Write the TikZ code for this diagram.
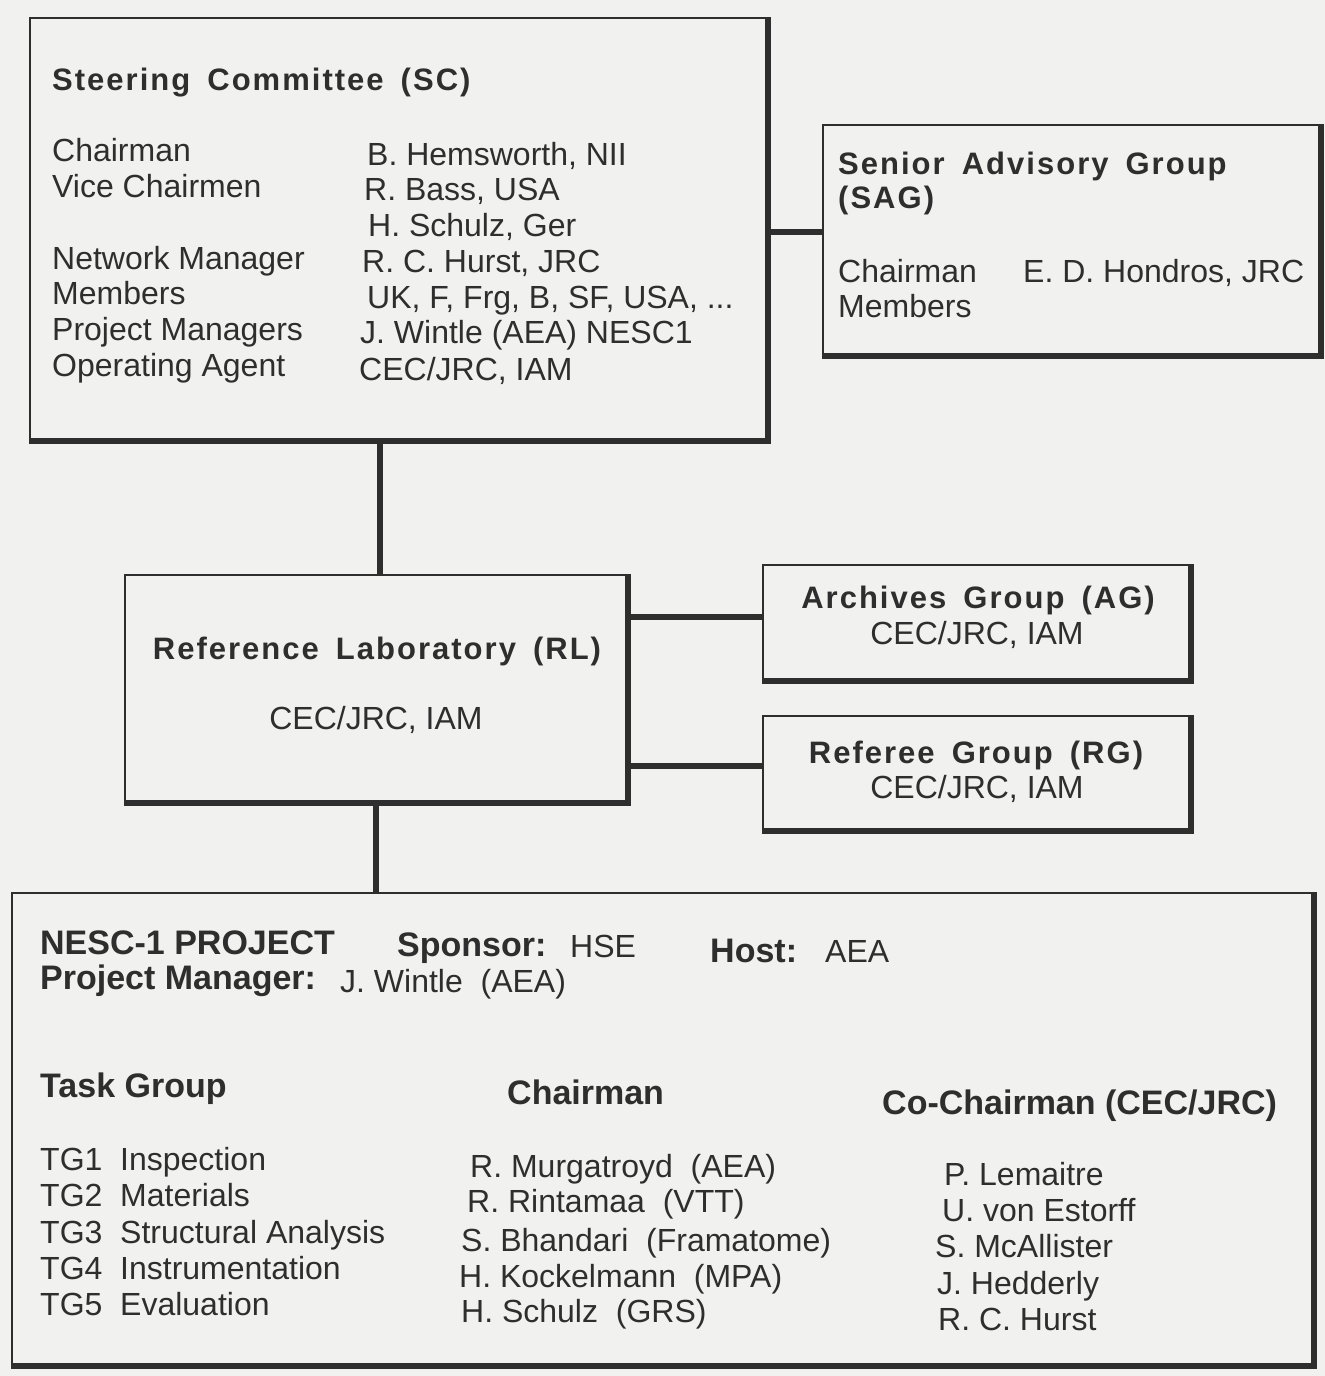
\documentclass[tikz,border=0pt]{standalone}
\usepackage{fontspec}
\setmainfont{Liberation Sans}
\newfontfamily\titlefont[LetterSpace=6.5]{Liberation Sans}
\definecolor{bgcol}{HTML}{F1F1EF}
\definecolor{ink}{HTML}{2E2E2E}
\newcommand{\wsp}{\hspace{0.55em}}
\tikzset{
  box/.style={draw=ink, line width=1.8pt, inner sep=0pt, fill=bgcol},
  thickedge/.style={draw=ink, line width=5.5pt, line cap=butt, line join=miter},
  conn/.style={draw=ink, line width=6pt},
  txt/.style={anchor=base west, inner sep=0pt, text=ink, font=\fontsize{32}{36}\selectfont},
  ctxt/.style={anchor=base, inner sep=0pt, text=ink, font=\fontsize{32}{36}\selectfont},
  ttl/.style={anchor=base west, inner sep=0pt, text=ink, font=\fontsize{31}{36}\titlefont\bfseries},
  cttl/.style={anchor=base, inner sep=0pt, text=ink, font=\fontsize{31}{36}\titlefont\bfseries},
  ntxt/.style={anchor=base west, inner sep=0pt, text=ink, font=\fontsize{32}{36}\selectfont},
  nbold/.style={anchor=base west, inner sep=0pt, text=ink, font=\fontsize{34}{36}\selectfont\bfseries}
}
\begin{document}
\begin{tikzpicture}[x=1pt,y=-1pt]
\useasboundingbox[fill=bgcol] (0,0) rectangle (1325,1376);

% boxes
\node[box, minimum width=737pt, minimum height=422pt] (sc) at (398.5,229) {};
\node[box, minimum width=497pt, minimum height=230pt] (sag) at (1071.5,240) {};
\node[box, minimum width=502pt, minimum height=227pt] (rl) at (376,688.5) {};
\node[box, minimum width=427pt, minimum height=115pt] (ag) at (976.5,622.5) {};
\node[box, minimum width=427pt, minimum height=114pt] (rg) at (976.5,773) {};
\node[box, minimum width=1301pt, minimum height=472pt] (nesc) at (662.5,1129) {};

\foreach \n in {sc,sag,rl,ag,rg,nesc}
  \draw[thickedge] (\n.south west) -- (\n.south east) -- (\n.north east);

% connectors
\draw[conn] ([yshift=-3pt]sc.east) -- ([yshift=-3pt]sc.east -| sag.west);
\draw[conn] ([xshift=4pt]rl.north) -- ([xshift=4pt]rl.north |- sc.south);
\draw[conn] ([yshift=6pt]ag.west) -- ([yshift=6pt]ag.west -| rl.east);
\draw[conn] ([yshift=7pt]rg.west) -- ([yshift=7pt]rg.west -| rl.east);
\draw[conn] (rl.south) -- (rl.south |- nesc.north);

% Steering Committee
\node[ttl] (sctitle) at (52,90) {Steering\wsp Committee\wsp (SC)};
\foreach \y/\t [count=\i] in {161/{Chairman},197/{Vice Chairmen},269/{Network Manager},304/{Members},340/{Project Managers},376/{Operating Agent}}
  \node[txt] (scl\i) at (52,\y) {\t};
\foreach \x/\y/\t [count=\i] in {367/165/{B. Hemsworth, NII},364/200/{R. Bass, USA},368/236/{H. Schulz, Ger},362/272/{R. C. Hurst, JRC},367/308/{UK, F, Frg, B, SF, USA, ...},360/343/{J. Wintle (AEA) NESC1},359/380/{CEC/JRC, IAM}}
  \node[txt] (scr\i) at (\x,\y) {\t};

% Senior Advisory Group
\node[ttl] (sagt1) at (838,174) {Senior\wsp Advisory\wsp Group};
\node[ttl] (sagt2) at (838,208) {(SAG)};
\node[txt] (sagc) at (838,282) {Chairman};
\node[txt] (sagn) at (1023,282) {E. D. Hondros, JRC};
\node[txt] (sagm) at (838,317) {Members};

% Reference Laboratory
\node[cttl] (rlt) at (377,659) {Reference\wsp Laboratory\wsp (RL)};
\node[ctxt] (rls) at (376,729) {CEC/JRC, IAM};

% Archives Group
\node[cttl] (agt) at (978,608) {Archives\wsp Group\wsp (AG)};
\node[ctxt] (ags) at (977,644) {CEC/JRC, IAM};

% Referee Group
\node[cttl] (rgt) at (976,763) {Referee\wsp Group\wsp (RG)};
\node[ctxt] (rgs) at (977,798) {CEC/JRC, IAM};

% NESC-1 project
\node[nbold] (np) at (40,954) {NESC-1 PROJECT};
\node[nbold] (nsp) at (397,956) {Sponsor:};
\node[ntxt] (nhse) at (570,957) {HSE};
\node[nbold] (nho) at (710,962) {Host:};
\node[ntxt] (naea) at (825,962) {AEA};
\node[nbold] (npm) at (40,989) {Project Manager:};
\node[ntxt] (npmn) at (340,992) {J. Wintle\ \ (AEA)};

\node[nbold] (htg) at (40,1097) {Task Group};
\node[nbold] (hch) at (507,1104) {Chairman};
\node[nbold] (hco) at (882,1114) {Co-Chairman (CEC/JRC)};

\foreach \y/\t [count=\i] in {1170/{TG1\ \ Inspection},1206/{TG2\ \ Materials},1243/{TG3\ \ Structural Analysis},1279/{TG4\ \ Instrumentation},1315/{TG5\ \ Evaluation}}
  \node[ntxt] (tg\i) at (40,\y) {\t};
\foreach \x/\y/\t [count=\i] in {470/1177/{R. Murgatroyd\ \ (AEA)},467/1212/{R. Rintamaa\ \ (VTT)},461/1251/{S. Bhandari\ \ (Framatome)},459/1287/{H. Kockelmann\ \ (MPA)},461/1322/{H. Schulz\ \ (GRS)}}
  \node[ntxt] (ch\i) at (\x,\y) {\t};
\foreach \x/\y/\t [count=\i] in {944/1185/{P. Lemaitre},942/1221/{U. von Estorff},935/1257/{S. McAllister},937/1294/{J. Hedderly},938/1330/{R. C. Hurst}}
  \node[ntxt] (co\i) at (\x,\y) {\t};
\end{tikzpicture}
\end{document}
